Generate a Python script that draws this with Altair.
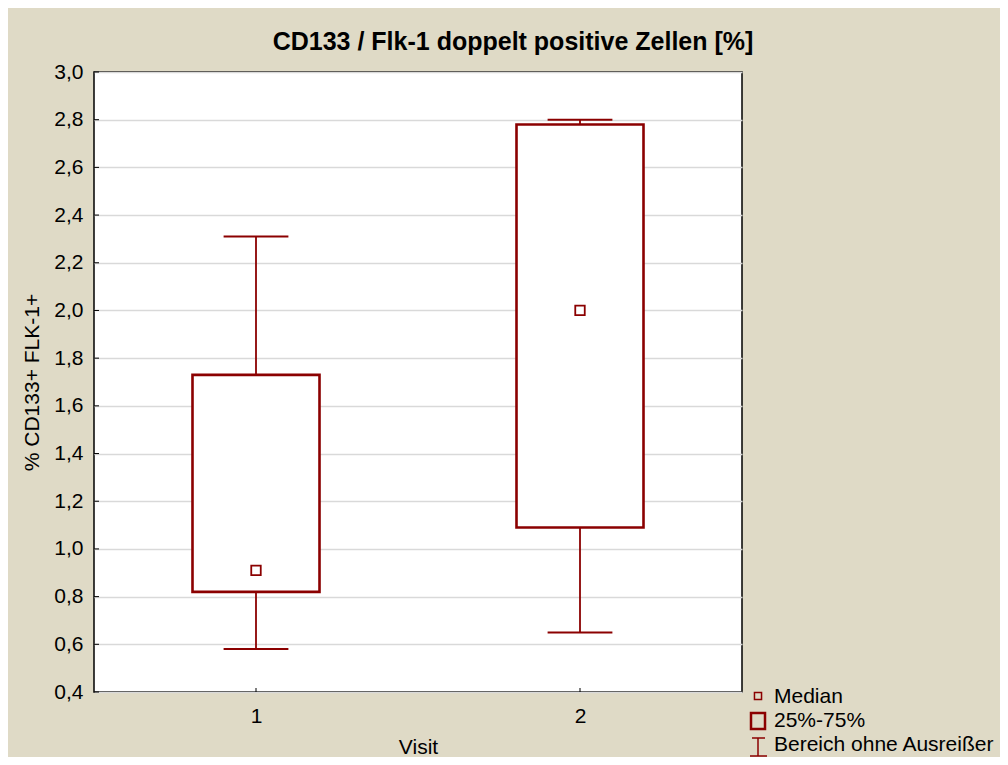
import altair as alt
import pandas as pd

# ---- data ----
visits = [1, 2]
mins = [0.58, 0.65]
q1s = [0.82, 1.09]
medians = [0.91, 2.00]
q3s = [1.73, 2.78]
maxs = [2.31, 2.80]
y_ticks = [0.4, 0.6, 0.8, 1.0, 1.2, 1.4, 1.6, 1.8, 2.0, 2.2, 2.4, 2.6, 2.8, 3.0]
x_ticks = [1, 2]
legend_labels = ["Median", "25%-75%", "Bereich ohne Ausreißer"]
title_text = "CD133 / Flk-1 doppelt positive Zellen [%]"
x_title = "Visit"
y_title = "% CD133+ FLK-1+"

DARK = "#8B0000"
BEIGE = "#DFDAC6"
FONT = "Liberation Sans"
W, H = 648, 620
FS = 21

df = pd.DataFrame({"visit": visits, "lo": mins, "q1": q1s, "med": medians,
                   "q3": q3s, "hi": maxs})

xscale = alt.Scale(domain=[0.5, 2.5], nice=False, zero=False)
yscale = alt.Scale(domain=[0.4, 3.0], nice=False, zero=False)

xaxis = alt.Axis(values=x_ticks, title=x_title, labelExpr="format(datum.value, 'd')",
                 grid=False, ticks=False, domain=False, labelFontSize=FS,
                 titleFontSize=FS, titleFontWeight="normal", labelPadding=13,
                 titlePadding=10, labelColor="black", titleColor="black",
                 labelFont=FONT, titleFont=FONT)
yaxis = alt.Axis(values=y_ticks, title=y_title,
                 labelExpr="replace(format(datum.value, '.1f'), '.', ',')",
                 grid=True, gridColor="#D9D9D9", gridWidth=1.5, ticks=False,
                 domain=False, labelFontSize=FS, titleFontSize=FS,
                 titleFontWeight="normal", labelPadding=11, titlePadding=11,
                 labelColor="black", titleColor="black", labelFont=FONT,
                 titleFont=FONT)

base = alt.Chart(df)

grid = base.mark_rule(opacity=0).encode(
    x=alt.X("visit:Q", scale=xscale, axis=xaxis),
    y=alt.Y("med:Q", scale=yscale, axis=yaxis),
)

whisk_low = base.mark_rule(color=DARK, strokeWidth=1.8).encode(
    x=alt.X("visit:Q", scale=xscale), y=alt.Y("lo:Q", scale=yscale), y2="q1:Q")
whisk_high = base.mark_rule(color=DARK, strokeWidth=1.8).encode(
    x=alt.X("visit:Q", scale=xscale), y=alt.Y("q3:Q", scale=yscale), y2="hi:Q")

caps = base.transform_calculate(cl="datum.visit - 0.1", cr="datum.visit + 0.1")
cap_low = caps.mark_rule(color=DARK, strokeWidth=2).encode(
    x=alt.X("cl:Q", scale=xscale), x2="cr:Q", y=alt.Y("lo:Q", scale=yscale))
cap_high = caps.mark_rule(color=DARK, strokeWidth=2).encode(
    x=alt.X("cl:Q", scale=xscale), x2="cr:Q", y=alt.Y("hi:Q", scale=yscale))

box = base.transform_calculate(bl="datum.visit - 0.196", br="datum.visit + 0.196"
).mark_rect(fill="white", stroke=DARK, strokeWidth=2.6).encode(
    x=alt.X("bl:Q", scale=xscale), x2="br:Q",
    y=alt.Y("q1:Q", scale=yscale), y2="q3:Q")

med = base.mark_point(shape="square", size=90, filled=False, color=DARK,
                      strokeWidth=1.8, opacity=1).encode(
    x=alt.X("visit:Q", scale=xscale), y=alt.Y("med:Q", scale=yscale))

# inward tick marks
ytick_df = pd.DataFrame({"v": y_ticks})
yticks = alt.Chart(ytick_df).mark_rule(color="black", strokeWidth=1).encode(
    x=alt.value(0), x2=alt.value(5), y=alt.Y("v:Q", scale=yscale))
xtick_df = pd.DataFrame({"v": x_ticks})
xticks = alt.Chart(xtick_df).mark_rule(color="black", strokeWidth=1).encode(
    x=alt.X("v:Q", scale=xscale), y=alt.value(H), y2=alt.value(H - 4))

# custom legend
one = pd.DataFrame({"k": [0]})
leg_med = alt.Chart(one).mark_point(shape="square", size=50, filled=False,
                                    color=DARK, strokeWidth=1.5, opacity=1).encode(
    x=alt.value(664), y=alt.value(624))
leg_box = alt.Chart(one).mark_rect(fill=BEIGE, stroke=DARK, strokeWidth=2.5).encode(
    x=alt.value(657), x2=alt.value(671), y=alt.value(641), y2=alt.value(657))
leg_wv = alt.Chart(one).mark_rule(color=DARK, strokeWidth=1.5).encode(
    x=alt.value(664), y=alt.value(666), y2=alt.value(684))
leg_wt = alt.Chart(one).mark_rule(color=DARK, strokeWidth=1.5).encode(
    x=alt.value(658), x2=alt.value(671), y=alt.value(666))
leg_wb = alt.Chart(one).mark_rule(color=DARK, strokeWidth=1.5).encode(
    x=alt.value(656), x2=alt.value(673), y=alt.value(684))

leg_texts = []
for i, lab in enumerate(legend_labels):
    leg_texts.append(
        alt.Chart(pd.DataFrame({"label": [lab]})).mark_text(
            align="left", baseline="middle", fontSize=FS, font=FONT, color="black"
        ).encode(x=alt.value(680), y=alt.value([625, 649, 673][i]), text="label:N")
    )

chart = alt.layer(
    grid, whisk_low, whisk_high, cap_low, cap_high, box, med, yticks, xticks,
    leg_med, leg_box, leg_wv, leg_wt, leg_wb, *leg_texts
).properties(
    width=W, height=H,
    title=alt.Title(title_text, fontSize=25, fontWeight="bold", font=FONT,
                    color="black", anchor="middle", dx=95, offset=6),
    background=BEIGE,
    padding={"left": 86, "top": 64, "right": 258, "bottom": 65},
    autosize=alt.AutoSizeParams(type="none"),
).configure_view(
    fill="white", stroke="black", strokeWidth=1.5
)

chart.save("out.html", embed_options={"renderer": "svg", "actions": False})
